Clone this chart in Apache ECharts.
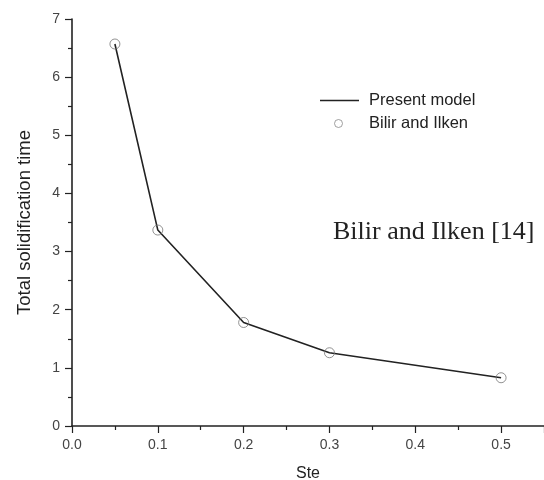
<!DOCTYPE html>
<html>
<head>
<meta charset="utf-8">
<script src="https://cdn.jsdelivr.net/npm/echarts@6/dist/echarts.min.js"></script>
<style>
  html, body { margin: 0; padding: 0; background: #fff; }
  #chart { width: 544px; height: 480px; }
</style>
</head>
<body>
<div id="chart"></div>
<script>
// Stefan number values and total solidification times
const steValues = [0.05, 0.1, 0.2, 0.3, 0.5];
const modelTimes = [6.57, 3.37, 1.78, 1.26, 0.83];
const bilirTimes = [6.57, 3.37, 1.78, 1.26, 0.83];
const xTicks = [0, 0.1, 0.2, 0.3, 0.4, 0.5];
const yTicks = [0, 1, 2, 3, 4, 5, 6, 7];

const toPairs = (xs, ys) => xs.map((x, i) => [x, ys[i]]);

const chart = echarts.init(document.getElementById('chart'));
const font = 'Liberation Sans, Arial, sans-serif';
const axisColor = '#222';

chart.setOption({
  animation: false,
  backgroundColor: '#fff',
  grid: { left: 72, right: 0, top: 19, bottom: 54, containLabel: false, outerBoundsMode: 'none' },
  legend: [
    {
      left: 315,
      top: 87,
      icon: 'rect',
      itemWidth: 39,
      itemHeight: 1.6,
      textStyle: { fontFamily: font, fontSize: 16.5, color: '#222', padding: [0, 0, 0, 5] },
      data: ['Present model']
    },
    {
      left: 329,
      top: 110,
      icon: 'circle',
      itemWidth: 39,
      itemHeight: 8,
      textStyle: { fontFamily: font, fontSize: 16.5, color: '#222', padding: [0, 0, 0, 6] },
      data: [{ name: 'Bilir and Ilken', itemStyle: { color: '#fff', borderColor: '#888', borderWidth: 1 } }]
    }
  ],
  xAxis: {
    type: 'value',
    min: 0,
    max: 0.55,
    interval: 0.1,
    name: 'Ste',
    nameLocation: 'middle',
    nameGap: 40,
    nameTextStyle: { fontFamily: font, fontSize: 16, color: '#222' },
    axisLine: { lineStyle: { color: axisColor, width: 1.6 } },
    axisTick: { show: true, inside: false, length: 7, lineStyle: { color: axisColor, width: 1.2 } },
    minorTick: { show: true, splitNumber: 2, length: 4, lineStyle: { color: axisColor, width: 1.2 } },
    axisLabel: {
      fontFamily: font, fontSize: 14, color: '#444', margin: 12,
      showMaxLabel: false,
      formatter: v => xTicks.includes(Math.round(v * 10) / 10) ? v.toFixed(1) : ''
    },
    splitLine: { show: false }
  },
  yAxis: {
    type: 'value',
    min: 0,
    max: 7,
    interval: 1,
    name: 'Total solidification time',
    nameLocation: 'middle',
    nameGap: 38,
    nameTextStyle: { fontFamily: font, fontSize: 18.5, color: '#222' },
    axisLine: { show: true, lineStyle: { color: axisColor, width: 1.6 } },
    axisTick: { show: true, inside: false, length: 7, lineStyle: { color: axisColor, width: 1.2 } },
    minorTick: { show: true, splitNumber: 2, length: 4, lineStyle: { color: axisColor, width: 1.2 } },
    axisLabel: {
      fontFamily: font, fontSize: 14, color: '#444', margin: 12,
      formatter: v => yTicks.includes(v) ? String(v) : ''
    },
    splitLine: { show: false }
  },
  series: [
    {
      name: 'Present model',
      type: 'line',
      data: toPairs(steValues, modelTimes),
      showSymbol: false,
      symbol: 'none',
      lineStyle: { color: '#222', width: 1.6 },
      itemStyle: { color: '#222' },
      z: 2
    },
    {
      name: 'Bilir and Ilken',
      type: 'scatter',
      data: toPairs(steValues, bilirTimes),
      symbol: 'circle',
      symbolSize: 10,
      itemStyle: { color: 'rgba(255,255,255,0)', borderColor: '#777', borderWidth: 1 },
      z: 3
    }
  ],
  graphic: [
    {
      type: 'text',
      x: 333,
      y: 232,
      style: {
        text: 'Bilir and Ilken [14]',
        fontFamily: 'Liberation Serif, Times New Roman, serif',
        fontSize: 26,
        fill: '#222',
        verticalAlign: 'middle'
      }
    }
  ]
});
</script>
</body>
</html>
